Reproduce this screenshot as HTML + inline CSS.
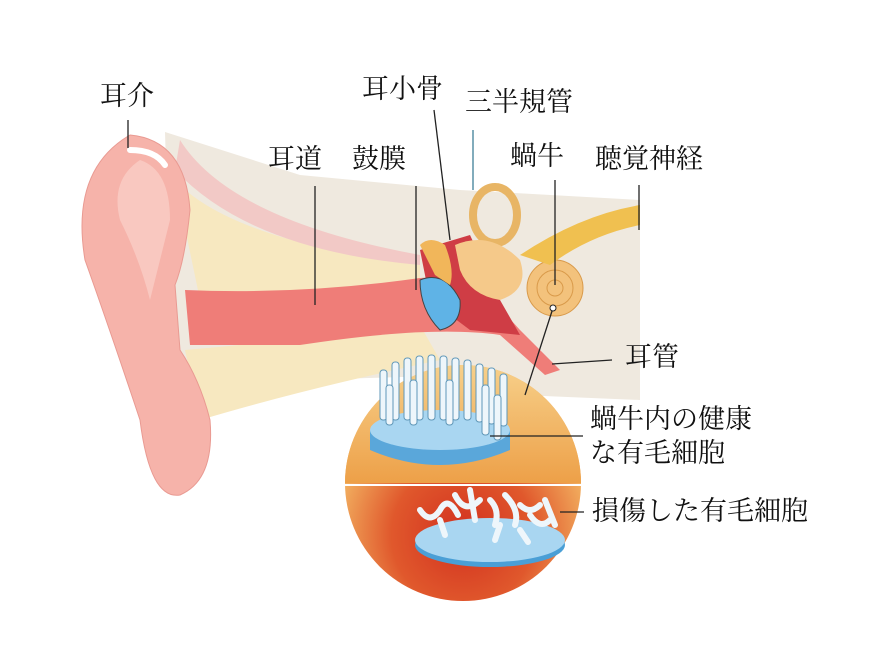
<!DOCTYPE html>
<html><head><meta charset="utf-8"><style>
html,body{margin:0;padding:0;background:#fff;}
svg text{font-family:"Liberation Serif","Noto Serif CJK JP","Noto Serif CJK SC",serif;font-size:27px;fill:#111;}
</style></head><body>
<svg width="886" height="660" viewBox="0 0 886 660" xmlns="http://www.w3.org/2000/svg">
<defs>
<radialGradient id="sph" cx="0.5" cy="0.72" r="0.55">
<stop offset="0" stop-color="#d2301f"/><stop offset="0.55" stop-color="#e0582c"/><stop offset="1" stop-color="#f2b060"/>
</radialGradient>
<linearGradient id="sphTop" x1="0" y1="0" x2="0" y2="1">
<stop offset="0" stop-color="#f7d08a"/><stop offset="1" stop-color="#eda048"/>
</linearGradient>
</defs>
<!-- bone background -->
<path d="M165,132 L300,175 L460,190 L640,200 L640,400 L520,395 L470,375 L300,380 L190,420 L170,300 Z" fill="#efe9df"/>
<path d="M175,180 Q230,240 420,265 L420,290 L200,300 Z" fill="#f7e8c0"/>
<path d="M185,350 Q300,340 420,325 L440,360 Q300,390 200,420 Z" fill="#f7e8c0"/>
<path d="M180,140 Q230,220 420,255 L420,265 Q250,250 175,170 Z" fill="#f2c9c6"/>
<!-- ear canal -->
<path d="M185,290 Q300,295 420,278 L470,275 L520,330 L560,370 L545,375 L500,335 Q430,325 300,345 L190,345 Z" fill="#ef7d78"/>
<path d="M420,250 L470,235 L500,300 L520,335 L470,330 L430,300 Z" fill="#cf3d45"/>
<!-- outer ear -->
<path d="M130,135 Q185,140 190,210 Q185,260 175,285 L180,350 Q200,380 210,420 Q215,480 180,495 Q150,500 140,420 Q110,330 85,260 Q70,170 130,135 Z" fill="#f6b3aa" stroke="#e99a92"/>
<path d="M140,160 Q170,170 170,220 Q160,260 150,300 Q140,260 120,220 Q110,180 140,160 Z" fill="#f9c8c0"/>
<path d="M130,150 Q155,150 165,165" stroke="#fff" stroke-width="6" fill="none" stroke-linecap="round"/>
<!-- eardrum -->
<path d="M420,280 Q445,270 460,300 Q462,325 440,330 Q420,310 420,280 Z" fill="#5fb3e6" stroke="#444"/>
<!-- ossicles / cochlea -->
<path d="M420,245 Q430,235 445,245 Q455,270 450,285 L435,275 Z" fill="#f1b65a"/>
<ellipse cx="495" cy="215" rx="22" ry="28" fill="none" stroke="#e8b565" stroke-width="8"/>
<path d="M455,245 Q490,230 520,260 Q530,290 500,300 Q470,295 460,270 Z" fill="#f5c98a"/>
<circle cx="555" cy="288" r="28" fill="#f3c27c" stroke="#d99a4a"/>
<circle cx="555" cy="288" r="18" fill="none" stroke="#d99a4a"/>
<circle cx="555" cy="288" r="8" fill="none" stroke="#d99a4a"/>
<path d="M520,255 Q580,215 640,205 L640,225 Q590,235 550,265 Z" fill="#f0c050"/>
<!-- sphere -->
<circle cx="463" cy="483" r="118" fill="url(#sph)"/>
<path d="M345,483 A118,118 0 0 1 581,483 Z" fill="url(#sphTop)"/>
<line x1="345" y1="485" x2="581" y2="485" stroke="#fff" stroke-width="2"/>
<path d="M370,430 L370,450 Q440,480 510,450 L510,430" fill="#5aa7da"/>
<ellipse cx="440" cy="430" rx="70" ry="20" fill="#a9d6f1"/>
<g stroke="#5f97b8" stroke-width="1" fill="#eef6fb">
<rect x="380" y="370" width="7" height="50" rx="3"/><rect x="392" y="362" width="7" height="58" rx="3"/>
<rect x="404" y="358" width="7" height="62" rx="3"/><rect x="416" y="356" width="7" height="64" rx="3"/>
<rect x="428" y="355" width="7" height="65" rx="3"/><rect x="440" y="356" width="7" height="64" rx="3"/>
<rect x="452" y="358" width="7" height="62" rx="3"/><rect x="464" y="360" width="7" height="60" rx="3"/>
<rect x="476" y="364" width="7" height="58" rx="3"/><rect x="488" y="368" width="7" height="56" rx="3"/>
<rect x="500" y="374" width="7" height="52" rx="3"/><rect x="386" y="385" width="7" height="40" rx="3"/>
<rect x="410" y="380" width="7" height="45" rx="3"/><rect x="446" y="380" width="7" height="45" rx="3"/>
<rect x="482" y="385" width="7" height="50" rx="3"/><rect x="494" y="395" width="7" height="45" rx="3"/>
</g>
<ellipse cx="490" cy="545" rx="75" ry="22" fill="#4a9fd6"/>
<ellipse cx="490" cy="540" rx="75" ry="22" fill="#a9d6f1"/>
<g stroke="#eef6fb" stroke-width="6" fill="none" stroke-linecap="round">
<path d="M420,510 q10,15 20,0 q8,-15 18,5"/><path d="M455,495 q10,20 25,5"/>
<path d="M470,490 l5,30"/><path d="M490,500 q10,10 5,25"/><path d="M505,495 q15,15 10,30"/>
<path d="M520,505 q10,10 20,0"/><path d="M530,515 q10,15 20,5"/><path d="M545,500 l10,25"/>
<path d="M440,520 l5,15"/><path d="M500,525 l-5,15"/><path d="M520,530 l8,12"/>
</g>
<!-- leader lines -->
<g stroke="#222" stroke-width="1.3" fill="none">
<line x1="128" y1="120" x2="128" y2="148"/>
<line x1="434" y1="110" x2="450" y2="240"/>
<line x1="315" y1="186" x2="315" y2="305"/>
<line x1="416" y1="186" x2="416" y2="290"/>
<line x1="555" y1="180" x2="555" y2="285"/>
<line x1="639" y1="185" x2="639" y2="230"/>
<line x1="553" y1="308" x2="525" y2="395"/>
<line x1="552" y1="364" x2="612" y2="360"/>
<line x1="490" y1="436" x2="583" y2="436"/>
<line x1="560" y1="512" x2="584" y2="512"/>
</g>
<line x1="473" y1="130" x2="473" y2="190" stroke="#3e7f97" stroke-width="1.3"/>
<circle cx="553" cy="308" r="3" fill="#fff" stroke="#222"/>
<!-- labels -->
<text x="100" y="105">耳介</text>
<text x="362" y="98">耳小骨</text>
<text x="465" y="111">三半規管</text>
<text x="268" y="168">耳道</text>
<text x="352" y="168">鼓膜</text>
<text x="510" y="165">蝸牛</text>
<text x="595" y="168">聴覚神経</text>
<text x="625" y="366">耳管</text>
<text x="590" y="428">蝸牛内の健康</text>
<text x="590" y="462">な有毛細胞</text>
<text x="592" y="520">損傷した有毛細胞</text>
</svg>
</body></html>
